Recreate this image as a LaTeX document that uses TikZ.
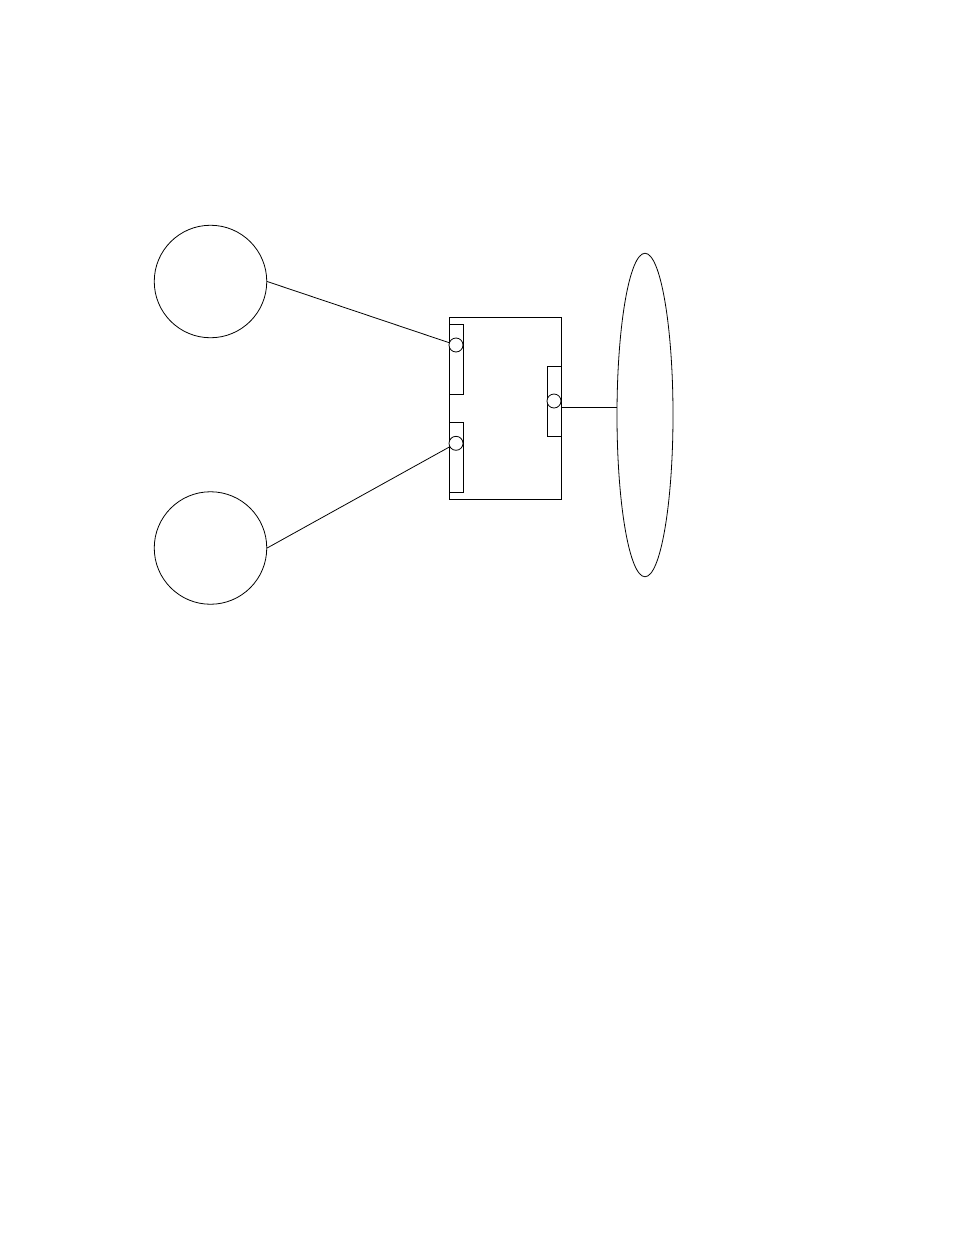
\documentclass[tikz,border=0pt]{standalone}
\usetikzlibrary{shapes.geometric}
\begin{document}
\begin{tikzpicture}[x=1pt,y=-1pt,
  every path/.style={line width=0.8pt},
  bigcirc/.style={draw,circle,minimum size=112.5pt,inner sep=0pt},
  portbox/.style={draw,rectangle,minimum width=14pt,minimum height=70pt,inner sep=0pt},
  portcirc/.style={draw,circle,minimum size=14pt,inner sep=0pt,fill=white},
  link/.style={draw,line width=0.8pt}]
\useasboundingbox (0,0) rectangle (954,1235);
\node[bigcirc] (cA) at (210.5,281.5) {};
\node[bigcirc] (cB) at (210.5,548) {};
\node[draw,rectangle,minimum width=112pt,minimum height=182pt,inner sep=0pt] (box) at (505.5,408) {};
\node[portbox] (r1) at (456.3,359.3) {};
\node[portbox] (r2) at (456.3,457.3) {};
\node[portbox] (r3) at (554.3,401) {};
\node[portcirc] (p1) at (456,345) {};
\node[portcirc] (p2) at (456,443.3) {};
\node[portcirc] (p3) at (554,401) {};
\node[draw,ellipse,minimum width=56pt,minimum height=323.5pt,inner sep=0pt] (ell) at (645,415) {};
\draw[link] (cA.east) -- (p1);
\draw[link] (cB.east) -- (p2);
\coordinate (j) at (561.3,407.7);
\draw[link] (j) -- (j -| ell.west);
\end{tikzpicture}
\end{document}
